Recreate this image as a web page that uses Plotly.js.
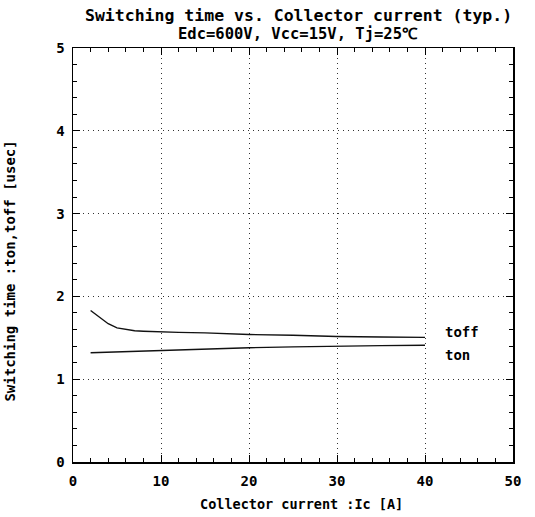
<!DOCTYPE html>
<html><head><meta charset="utf-8">
<script src="https://cdn.plot.ly/plotly-3.0.1.min.js"></script>
<style>html,body{margin:0;padding:0;background:#fff}#c{width:535px;height:517px}</style>
</head><body><div id="c"></div>
<script>
const toffX = [2, 2.5, 3, 3.5, 4, 5, 6, 7, 8, 10, 12, 15, 20, 25, 30, 35, 40];
const toffY = [1.83, 1.79, 1.74, 1.70, 1.67, 1.62, 1.60, 1.585, 1.58, 1.57, 1.565, 1.56, 1.54, 1.53, 1.515, 1.51, 1.505];
const tonX = [2, 5, 10, 15, 20, 25, 30, 35, 40];
const tonY = [1.32, 1.33, 1.35, 1.37, 1.38, 1.39, 1.40, 1.405, 1.41];
const seriesLabels = ["toff", "ton"];
const titleLines = ["Switching time vs. Collector current (typ.)", "Edc=600V, Vcc=15V, Tj=25℃"];
const xTitle = "Collector current :Ic [A]";
const yTitle = "Switching time :ton,toff [usec]";
const FONT = "DejaVu Sans Mono, Liberation Mono, monospace";

const traces = [
  {x: toffX, y: toffY, mode: "lines", line: {color: "#111", width: 1.4}, hoverinfo: "skip"},
  {x: tonX, y: tonY, mode: "lines", line: {color: "#111", width: 1.4}, hoverinfo: "skip"}
];
const axisCommon = {
  showline: true, linecolor: "#000", linewidth: 1.5, mirror: "ticks",
  ticks: "inside", ticklen: 7, tickcolor: "#000", tickwidth: 1,
  showgrid: true, gridcolor: "#333", gridwidth: 1, griddash: "1px,4px",
  zeroline: false, tickfont: {family: FONT, size: 14, color: "#000", weight: "bold"}
};
const layout = {
  width: 535, height: 517,
  margin: {l: 73, r: 22, t: 48, b: 55},
  paper_bgcolor: "#fff", plot_bgcolor: "#fff",
  showlegend: false,
  xaxis: Object.assign({}, axisCommon, {
    range: [0, 50], dtick: 10, tick0: 0, ticklabelstandoff: 6,
    minor: {dtick: 2, ticks: "inside", ticklen: 4, tickcolor: "#000", tickwidth: 1, showgrid: false}
  }),
  yaxis: Object.assign({}, axisCommon, {
    range: [0, 5], dtick: 1, tick0: 0, ticklabelstandoff: 4,
    minor: {dtick: 0.2, ticks: "inside", ticklen: 4, tickcolor: "#000", tickwidth: 1, showgrid: false}
  }),
  annotations: [
    {xref: "paper", yref: "paper", x: 0.512, y: 1, yshift: 33, text: titleLines[0], showarrow: false, xanchor: "center", yanchor: "middle",
      font: {family: FONT, size: 16.5, color: "#000", weight: "bold"}},
    {xref: "paper", yref: "paper", x: 0.512, y: 1, yshift: 14, text: titleLines[1], showarrow: false, xanchor: "center", yanchor: "middle",
      font: {family: FONT, size: 15.5, color: "#000", weight: "bold"}},
    {xref: "paper", yref: "paper", x: 0.52, y: 0, yshift: -42, text: xTitle, showarrow: false, xanchor: "center", yanchor: "middle",
      font: {family: FONT, size: 13.5, color: "#000", weight: "bold"}},
    {xref: "paper", yref: "paper", x: 0, xshift: -63, y: 0.46, text: yTitle, textangle: -90, showarrow: false, xanchor: "center", yanchor: "middle",
      font: {family: FONT, size: 14, color: "#000", weight: "bold"}},
    {x: 42, y: toffY[toffY.length - 1] + 0.06, text: seriesLabels[0], showarrow: false, xanchor: "left", yanchor: "middle",
      font: {family: FONT, size: 14, color: "#000", weight: "bold"}},
    {x: 42, y: tonY[tonY.length - 1] - 0.12, text: seriesLabels[1], showarrow: false, xanchor: "left", yanchor: "middle",
      font: {family: FONT, size: 14, color: "#000", weight: "bold"}}
  ]
};
Plotly.newPlot("c", traces, layout, {staticPlot: true});
</script></body></html>
